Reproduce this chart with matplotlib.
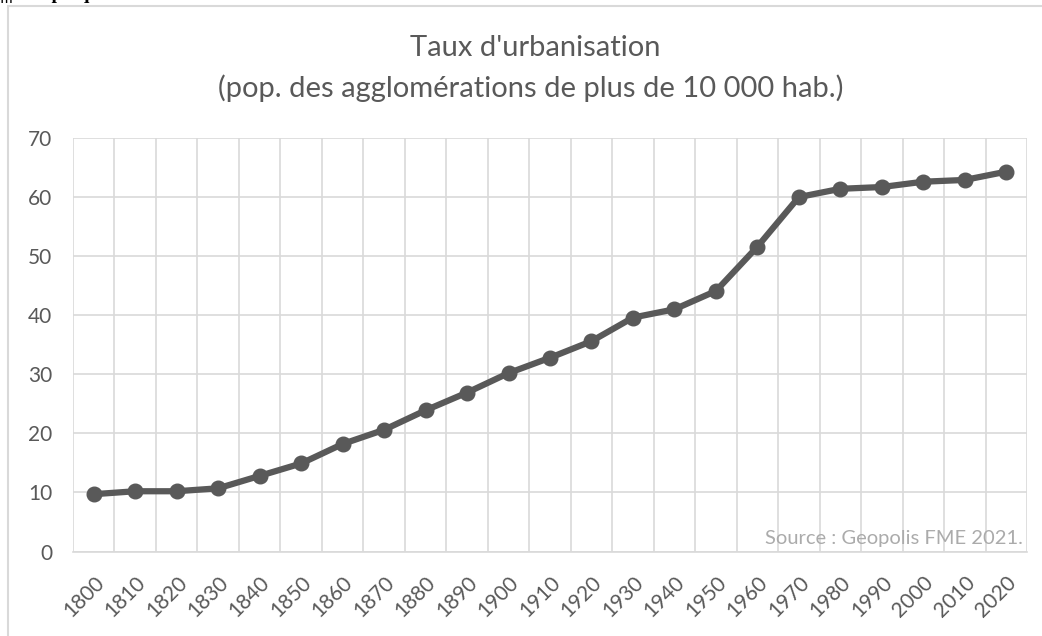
import matplotlib
matplotlib.use("Agg")
import matplotlib.pyplot as plt
from matplotlib.patches import Rectangle

# Taux d'urbanisation (%)
years = ["1800", "1810", "1820", "1830", "1840", "1850", "1860", "1870", "1880",
         "1890", "1900", "1910", "1920", "1930", "1940", "1950", "1960", "1970",
         "1980", "1990", "2000", "2010", "2020"]
rates = [9.7, 10.2, 10.2, 10.7, 12.8, 14.9, 18.2, 20.6, 23.9, 26.9, 30.2, 32.8,
         35.6, 39.6, 41.0, 44.1, 51.6, 60.0, 61.4, 61.7, 62.6, 62.9, 64.3]
yticks = [0, 10, 20, 30, 40, 50, 60, 70]

W, H = 1042, 636
TEXT = "#595959"
GRID = "#D9D9D9"

plt.rcParams["font.family"] = ["Lato", "DejaVu Sans"]

fig = plt.figure(figsize=(W / 100, H / 100), dpi=100)

# outer chart frame (cropped at right and bottom)
fig.patches.append(Rectangle((8 / W, -0.05), 1.1, 1 - 6 / H + 0.05,
                             transform=fig.transFigure, fill=False,
                             edgecolor=GRID, linewidth=1.5))

# heading of the page, cut off at the top in the source image
fig.text(0.0, 1 + 1 / H, "||| Graphique 1. Évolution du taux d'urbanisation de 1800 à 2020",
         family="Liberation Serif", fontweight="bold", fontsize=14, va="baseline",
         ha="left", color="black")

ax = fig.add_axes([73 / W, 1 - 551.5 / H, (1027 - 73) / W, (551.5 - 138) / H])

x = list(range(len(years)))
ax.plot(x, rates, color=TEXT, linewidth=4.5, marker="o", markersize=10.5,
        solid_capstyle="round", zorder=3)

ax.set_xlim(-0.5, len(years) - 0.5)
ax.set_ylim(0, 70)
ax.set_yticks(yticks)
ax.set_xticks(x)
ax.set_xticklabels(years, rotation=45, ha="right", rotation_mode="anchor")

# vertical grid at category boundaries
for b in range(len(years) + 1):
    ax.axvline(b - 0.5, color=GRID, linewidth=1.2, zorder=1)
ax.grid(axis="y", color=GRID, linewidth=1.2, zorder=1)
ax.set_axisbelow(True)

for side in ["left", "right", "top"]:
    ax.spines[side].set_visible(False)
ax.spines["bottom"].set_color(GRID)
ax.spines["bottom"].set_linewidth(1.2)

ax.tick_params(axis="both", length=0, labelsize=15, colors=TEXT)
ax.tick_params(axis="y", pad=15)
ax.tick_params(axis="x", pad=15)

fig.text(535 / W, 1 - 48 / H, "Taux d'urbanisation", ha="center", va="center",
         fontsize=21, color=TEXT)
fig.text(531 / W, 1 - 88 / H, "(pop. des agglomérations de plus de 10 000 hab.)",
         ha="center", va="center", fontsize=21, color=TEXT)

ax.text(0.996, 0.012, "Source : Geopolis FME 2021.", transform=ax.transAxes,
        ha="right", va="bottom", fontsize=14.5, color="#ABABAB", zorder=4)

fig.savefig("out.png", dpi=100)
